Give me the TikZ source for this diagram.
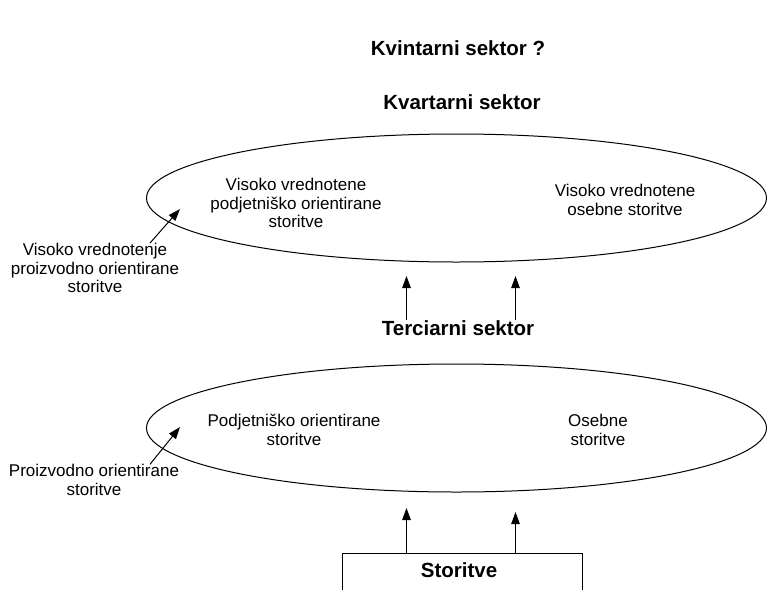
\documentclass[tikz,border=0pt]{standalone}
\usepackage{fontspec}
\setmainfont{Liberation Sans}
\usetikzlibrary{arrows.meta,positioning,shapes.geometric}

\begin{document}
\begin{tikzpicture}[
			x=1pt, y=-1pt,
			every node/.style={font=\fontsize{17}{18.5}\selectfont, inner sep=0pt},
			sektor/.style={font=\fontsize{20.5}{23}\selectfont\bfseries, anchor=base},
			plast/.style={ellipse, draw=black, line width=1pt, minimum width=620pt, minimum height=128pt},
			opis/.style={align=center},
			okvir/.style={rectangle, draw=black, line width=1pt, minimum width=240pt, minimum height=80pt, anchor=north},
			arrow/.style={line width=1pt, -{Triangle[length=12pt,width=8.5pt]}}
		]
		\useasboundingbox (0,0) rectangle (767,589);
		\clip (0,0) rectangle (767,589);

		% Titles
		\node (kvintar) [sektor] at (458,55) {Kvintarni sektor ?};
		\node (kvartar) [sektor] at (462,109) {Kvartarni sektor};
		\node (terciar) [sektor] at (458,335) {Terciarni sektor};

		% Upper layer
		\node (gornja) [plast] at (456.5,198) {};
		\node (vvpodj) [opis] at (296,203) {Visoko vrednotene\\podjetniško orientirane\\storitve};
		\node (vvoseb) [opis] at (625,200) {Visoko vrednotene\\osebne storitve};
		\node (vvproiz) [opis] at (95,268) {Visoko vrednotenje\\proizvodno orientirane\\storitve};

		% Lower layer
		\node (spodnja) [plast] at (456.5,428) {};
		\node (podj) [opis] at (294,430) {Podjetniško orientirane\\storitve};
		\node (oseb) [opis] at (598,430) {Osebne\\storitve};
		\node (proiz) [opis] at (94,480) {Proizvodno orientirane\\storitve};

		% Base
		\node (storitve) [okvir] at (462,552.5) {};
		\node (storitvetxt) [sektor] at (459,577) {Storitve};

		% Arrow ends
		\coordinate (g1) at (406.5,276);
		\coordinate (g2) at (515.5,276);
		\coordinate (s1) at (406.5,508);
		\coordinate (s2) at (515.5,512);
		\coordinate (gl) at (180,209);
		\coordinate (sl) at (180,427);

		% Connections
		\draw [arrow] (terciar.north -| g1) -- (g1);
		\draw [arrow] (terciar.north -| g2) -- (g2);
		\draw [arrow] (storitve.north -| s1) -- (s1);
		\draw [arrow] (storitve.north -| s2) -- (s2);
		\draw [arrow] (vvproiz.north -| 150,0) -- (gl);
		\draw [arrow] (proiz.north -| 150,0) -- (sl);

	\end{tikzpicture}
\end{document}
